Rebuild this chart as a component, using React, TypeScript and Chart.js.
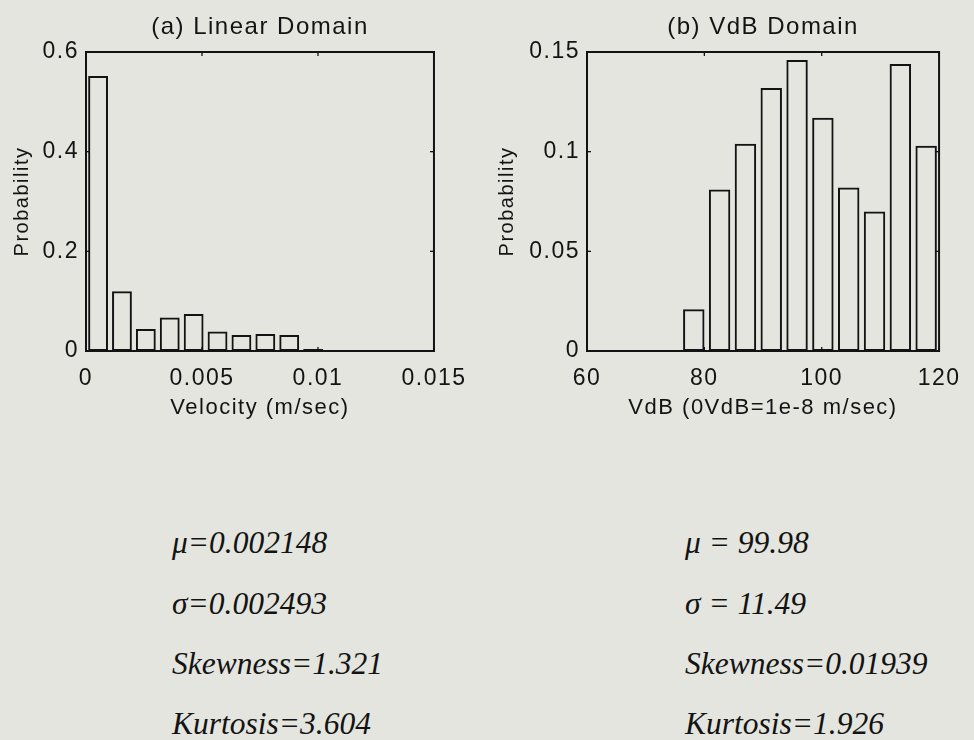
import React, { useEffect, useRef } from "react";
import { Chart, registerables } from "chart.js";

Chart.register(...registerables);

// ---------- data ----------
const linearTitle = "(a) Linear Domain";
const linearXLabel = "Velocity (m/sec)";
const linearBinCenters = [0.00052, 0.00155, 0.00258, 0.00361, 0.00464, 0.00567, 0.0067, 0.00773, 0.00876, 0.00979];
const linearProbability = [0.552, 0.12, 0.044, 0.067, 0.074, 0.039, 0.032, 0.034, 0.032, 0.004];
const linearXTicks = [0, 0.005, 0.01, 0.015];
const linearXTickLabels = ["0", "0.005", "0.01", "0.015"];
const linearYTicks = [0, 0.2, 0.4, 0.6];
const linearYTickLabels = ["0", "0.2", "0.4", "0.6"];

const vdbTitle = "(b) VdB Domain";
const vdbXLabel = "VdB (0VdB=1e-8 m/sec)";
const vdbBinCenters = [78.2, 82.6, 87.0, 91.4, 95.8, 100.2, 104.6, 109.0, 113.4, 117.8];
const vdbProbability = [0.021, 0.081, 0.104, 0.132, 0.146, 0.117, 0.082, 0.07, 0.144, 0.103];
const vdbXTicks = [60, 80, 100, 120];
const vdbXTickLabels = ["60", "80", "100", "120"];
const vdbYTicks = [0, 0.05, 0.1, 0.15];
const vdbYTickLabels = ["0", "0.05", "0.1", "0.15"];

const yLabel = "Probability";

const linearStats = ["μ=0.002148", "σ=0.002493", "Skewness=1.321", "Kurtosis=3.604"];
const vdbStats = ["μ = 99.98", "σ = 11.49", "Skewness=0.01939", "Kurtosis=1.926"];

// ---------- style ----------
const INK = "#131313";
const BG = "#e4e5df";
const SANS = '"Liberation Sans", Arial, Helvetica, sans-serif';

const boxPlugin = {
  id: "matlabBox",
  beforeUpdate(chart: any) {
    chart.ctx.letterSpacing = "1.5px";
  },
  beforeDraw(chart: any) {
    chart.ctx.letterSpacing = "1.5px";
  },
  afterDraw(chart: any) {
    const { ctx, chartArea: a, scales } = chart;
    ctx.save();
    ctx.strokeStyle = INK;
    ctx.lineWidth = 2;
    ctx.strokeRect(a.left, a.top, a.right - a.left, a.bottom - a.top);
    ctx.lineWidth = 1.3;
    const t = 4;
    const seg = (x1: number, y1: number, x2: number, y2: number) => {
      ctx.beginPath();
      ctx.moveTo(x1, y1);
      ctx.lineTo(x2, y2);
      ctx.stroke();
    };
    scales.x.ticks.forEach((tk: any) => {
      const px = scales.x.getPixelForValue(tk.value);
      seg(px, a.bottom, px, a.bottom - t);
      seg(px, a.top, px, a.top + t);
    });
    scales.y.ticks.forEach((tk: any) => {
      const py = scales.y.getPixelForValue(tk.value);
      seg(a.left, py, a.left + t, py);
      seg(a.right, py, a.right - t, py);
    });
    ctx.restore();
  },
};

type HistProps = {
  title: string;
  xLabel: string;
  centers: number[];
  probs: number[];
  xTicks: number[];
  xTickLabels: string[];
  yTicks: number[];
  yTickLabels: string[];
  width: number;
  height: number;
  yAxisWidth: number;
  padRight: number;
  yTitlePad: number;
};

function Histogram(p: HistProps) {
  const ref = useRef<HTMLCanvasElement | null>(null);
  useEffect(() => {
    if (!ref.current) return;
    const chart = new Chart(ref.current, {
      type: "bar",
      data: {
        datasets: [
          {
            data: p.centers.map((c, i) => ({ x: c, y: p.probs[i] })),
            backgroundColor: "rgba(0,0,0,0)",
            borderColor: INK,
            borderWidth: 2,
            borderSkipped: false,
            categoryPercentage: 1,
            barPercentage: 0.83,
          } as any,
        ],
      },
      options: {
        responsive: false,
        animation: false,
        events: [],
        layout: { padding: { left: 0, top: 0, bottom: 0, right: p.padRight } },
        plugins: {
          legend: { display: false },
          tooltip: { enabled: false },
          title: {
            display: true,
            text: p.title,
            fullSize: false,
            color: INK,
            font: { family: SANS, size: 24, weight: "normal" },
            padding: { top: 12.5, bottom: 10.7 },
          },
        },
        scales: {
          x: {
            type: "linear",
            offset: false,
            min: p.xTicks[0],
            max: p.xTicks[p.xTicks.length - 1],
            grid: { display: false, drawTicks: false },
            border: { display: false },
            afterBuildTicks: (scale: any) => {
              scale.ticks = p.xTicks.map((v) => ({ value: v }));
            },
            afterFit: (scale: any) => {
              scale.height = p.height - 351;
            },
            ticks: {
              padding: 13.5,
              color: INK,
              maxRotation: 0,
              font: { family: SANS, size: 23 },
              callback: (_v: any, i: number) => p.xTickLabels[i],
            },
            title: {
              display: true,
              text: p.xLabel,
              color: INK,
              font: { family: SANS, size: 22 },
              padding: { top: 0, bottom: 9 },
            },
          },
          y: {
            type: "linear",
            min: p.yTicks[0],
            max: p.yTicks[p.yTicks.length - 1],
            grid: { display: false, drawTicks: false },
            border: { display: false },
            afterBuildTicks: (scale: any) => {
              scale.ticks = p.yTicks.map((v) => ({ value: v }));
            },
            afterFit: (scale: any) => {
              scale.width = p.yAxisWidth;
            },
            ticks: {
              padding: 7,
              color: INK,
              font: { family: SANS, size: 23 },
              callback: (_v: any, i: number) => p.yTickLabels[i],
            },
            title: {
              display: true,
              text: yLabel,
              color: INK,
              font: { family: SANS, size: 20 },
              padding: { top: p.yTitlePad, bottom: 0 },
            },
          },
        },
      } as any,
      plugins: [boxPlugin],
    });
    return () => chart.destroy();
  }, []);
  return <canvas ref={ref} width={p.width} height={p.height} style={{ display: "block" }} />;
}

function Stats({ lines, left }: { lines: string[]; left: number }) {
  const centers = [543, 604, 664, 724];
  return (
    <>
      {lines.map((s, i) => (
        <div
          key={i}
          style={{
            position: "absolute",
            left,
            top: centers[i] - 18,
            height: 36,
            lineHeight: "36px",
            fontFamily: '"Liberation Serif", "Times New Roman", serif',
            fontStyle: "italic",
            fontSize: 31.5,
            color: INK,
            whiteSpace: "nowrap",
          }}
        >
          {s}
        </div>
      ))}
    </>
  );
}

export default function App() {
  return (
    <div
      style={{
        position: "absolute",
        left: 0,
        top: 0,
        width: 974,
        height: 740,
        background: BG,
        overflow: "hidden",
      }}
    >
      <div style={{ position: "absolute", left: 0, top: 0 }}>
        <Histogram
          title={linearTitle}
          xLabel={linearXLabel}
          centers={linearBinCenters}
          probs={linearProbability}
          xTicks={linearXTicks}
          xTickLabels={linearXTickLabels}
          yTicks={linearYTicks}
          yTickLabels={linearYTickLabels}
          width={480}
          height={430}
          yAxisWidth={86}
          padRight={42}
          yTitlePad={10}
        />
      </div>
      <div style={{ position: "absolute", left: 480, top: 0 }}>
        <Histogram
          title={vdbTitle}
          xLabel={vdbXLabel}
          centers={vdbBinCenters}
          probs={vdbProbability}
          xTicks={vdbXTicks}
          xTickLabels={vdbXTickLabels}
          yTicks={vdbYTicks}
          yTickLabels={vdbYTickLabels}
          width={494}
          height={430}
          yAxisWidth={107}
          padRight={33}
          yTitlePad={15}
        />
      </div>
      <Stats lines={linearStats} left={172} />
      <Stats lines={vdbStats} left={685} />
    </div>
  );
}
